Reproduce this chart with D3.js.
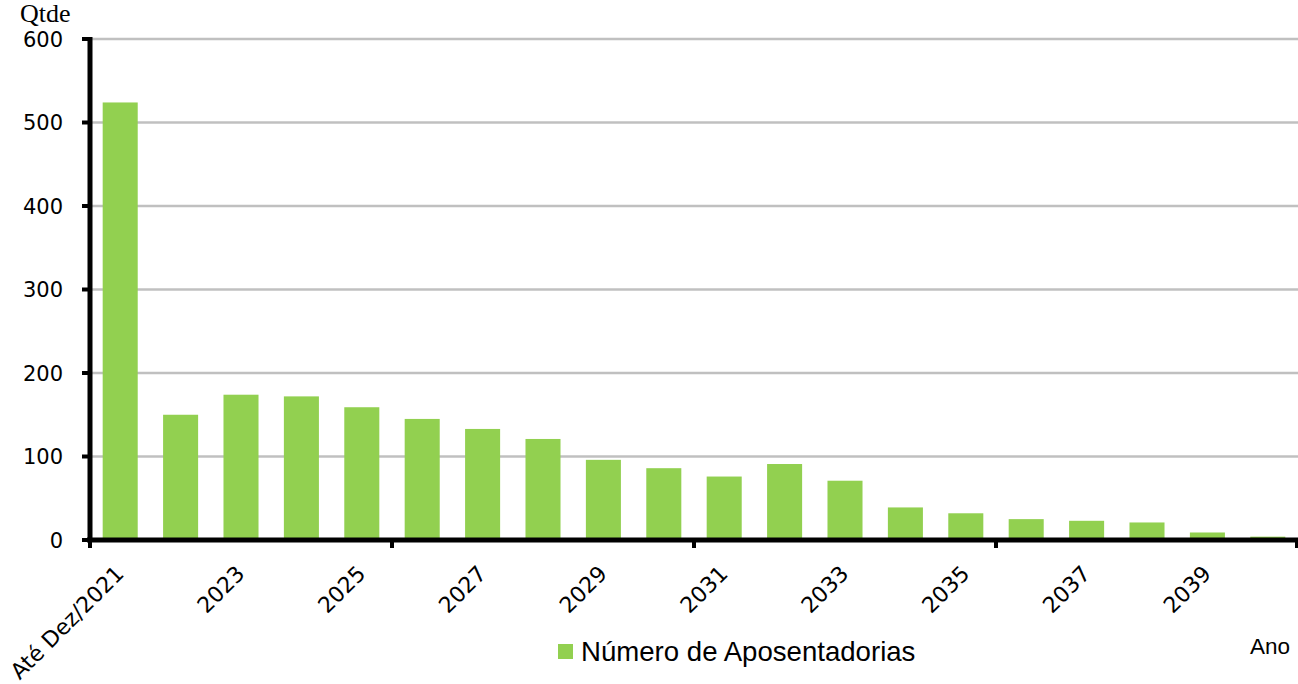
<!DOCTYPE html>
<html><head><meta charset="utf-8">
<script src="https://cdn.jsdelivr.net/npm/d3@7"></script>
<style>body{margin:0;background:#fff}svg{display:block}</style>
</head><body>
<svg id="c" width="1298" height="684"></svg>
<script>
const categories = ["Até Dez/2021","2022","2023","2024","2025","2026","2027","2028","2029","2030","2031","2032","2033","2034","2035","2036","2037","2038","2039","2040"];
const values = [524,150,174,172,159,145,133,121,96,86,76,91,71,39,32,25,23,21,9,4];
const yTicks = [0,100,200,300,400,500,600];
const seriesName = "Número de Aposentadorias";

const svg = d3.select("#c");
const x = d3.scaleBand().domain(categories).range([90,1298]).paddingInner(0.42).paddingOuter(0.21);
const y = d3.scaleLinear().domain([0,600]).range([540,39]);

// gridlines
svg.append("g").selectAll("line").data(yTicks.filter(d=>d>0)).join("line")
  .attr("x1",92).attr("x2",1298).attr("y1",d=>y(d)).attr("y2",d=>y(d))
  .attr("stroke","#c0c0c0").attr("stroke-width",2.5);

// bars
svg.append("g").selectAll("rect").data(values).join("rect")
  .attr("x",(d,i)=>x(categories[i])).attr("width",x.bandwidth())
  .attr("y",d=>y(d)).attr("height",d=>y(0)-y(d))
  .attr("fill","#92d050");

// y axis
const yAxis = svg.append("g");
yAxis.append("line").attr("x1",90).attr("x2",90).attr("y1",y(600)-2).attr("y2",y(0)+2)
  .attr("stroke","#000").attr("stroke-width",5);
yAxis.selectAll("line.t").data(yTicks).join("line").attr("class","t")
  .attr("x1",82).attr("x2",90).attr("y1",d=>y(d)).attr("y2",d=>y(d))
  .attr("stroke","#000").attr("stroke-width",4);
yAxis.selectAll("text").data(yTicks).join("text")
  .attr("x",63).attr("y",d=>y(d)).attr("dy","0.36em").attr("text-anchor","end")
  .attr("font-family","DejaVu Sans").attr("font-size",21).attr("fill","#000")
  .text(d=>d);

// x axis
const xAxis = svg.append("g");
xAxis.append("line").attr("x1",87).attr("x2",1298).attr("y1",y(0)).attr("y2",y(0))
  .attr("stroke","#000").attr("stroke-width",5);
const off = (x.step()-x.bandwidth())/2;
const tickIdx = [0,5,10,15,20];
xAxis.selectAll("line.t").data(tickIdx).join("line").attr("class","t")
  .attr("x1",i=> i<categories.length ? x(categories[i])-off : x.range()[1]-1)
  .attr("x2",i=> i<categories.length ? x(categories[i])-off : x.range()[1]-1)
  .attr("y1",y(0)).attr("y2",y(0)+8)
  .attr("stroke","#000").attr("stroke-width",4);
xAxis.selectAll("text").data(categories.filter((d,i)=>i%2===0)).join("text")
  .attr("transform",d=>`translate(${x(d)+x.bandwidth()/2+5},575) rotate(-45)`)
  .attr("text-anchor","end")
  .attr("font-family","DejaVu Sans").attr("font-size",22).attr("fill","#000")
  .text(d=>d);

// titles
svg.append("text").attr("x",20).attr("y",22).attr("font-family","Liberation Serif")
  .attr("font-size",26).attr("fill","#000").text("Qtde");
svg.append("text").attr("x",1250).attr("y",654).attr("font-family","Liberation Sans")
  .attr("font-size",22.5).attr("fill","#000").text("Ano");

// legend
svg.append("rect").attr("x",558).attr("y",644).attr("width",15).attr("height",15).attr("fill","#92d050");
svg.append("text").attr("x",581).attr("y",661).attr("font-family","Liberation Sans")
  .attr("font-size",27.6).attr("fill","#000").text(seriesName);
</script>
</body></html>
